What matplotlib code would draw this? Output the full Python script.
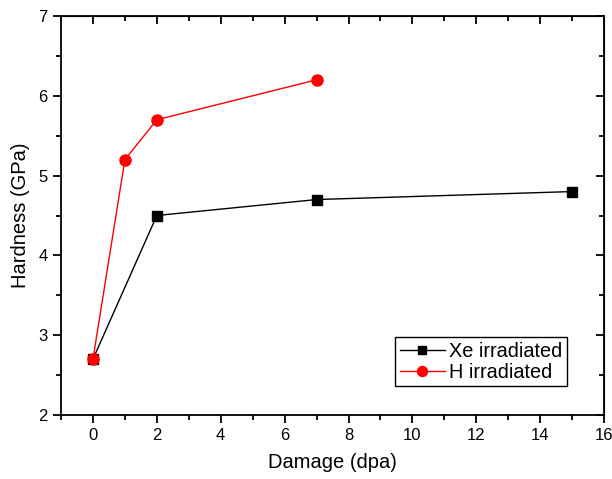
import matplotlib
matplotlib.use('Agg')
import matplotlib.pyplot as plt
from matplotlib.ticker import MultipleLocator

plt.rcParams['font.family'] = ['Liberation Sans', 'DejaVu Sans']

# Data
xe_dpa = [0, 2, 7, 15]
xe_hardness = [2.7, 4.5, 4.7, 4.8]
h_dpa = [0, 1, 2, 7]
h_hardness = [2.7, 5.2, 5.7, 6.2]

fig = plt.figure(figsize=(6.12, 4.79), dpi=100)
ax = fig.add_axes([0.0997, 0.1336, 0.8873, 0.833])

ax.plot(xe_dpa, xe_hardness, color='black', marker='s', markersize=7, linewidth=1, label='Xe irradiated')
ax.plot(h_dpa, h_hardness, color='red', marker='o', markersize=8, linewidth=1, label='H irradiated')

ax.set_xlim(-1, 16)
ax.set_ylim(2, 7)
ax.xaxis.set_major_locator(MultipleLocator(2))
ax.xaxis.set_minor_locator(MultipleLocator(1))
ax.yaxis.set_major_locator(MultipleLocator(1))
ax.yaxis.set_minor_locator(MultipleLocator(0.5))

for s in ax.spines.values():
    s.set_linewidth(1.3)

ax.tick_params(which='both', direction='out', top=False, right=False, labelsize=12, width=1.3)
ax.tick_params(which='major', length=6)
ax.tick_params(which='minor', length=3.5)

# inward ticks on top and right, like Origin
ax_top = ax.secondary_xaxis('top')
ax_top.xaxis.set_major_locator(MultipleLocator(2))
ax_top.xaxis.set_minor_locator(MultipleLocator(1))
ax_top.tick_params(which='both', direction='in', labeltop=False, width=1.3)
ax_top.tick_params(which='major', length=6)
ax_top.tick_params(which='minor', length=3.5)
ax_right = ax.secondary_yaxis('right')
ax_right.yaxis.set_major_locator(MultipleLocator(1))
ax_right.yaxis.set_minor_locator(MultipleLocator(0.5))
ax_right.tick_params(which='both', direction='in', labelright=False, width=1.3)
ax_right.tick_params(which='major', length=6)
ax_right.tick_params(which='minor', length=3.5)

ax.set_xlabel('Damage (dpa)', fontsize=14.5, labelpad=7)
ax.set_ylabel('Hardness (GPa)', fontsize=14.5, labelpad=6)

leg = ax.legend(loc='lower right', bbox_to_anchor=(0.932, 0.073), borderaxespad=0, fontsize=14.3,
                fancybox=False, edgecolor='black', framealpha=1, handlelength=2.26, borderpad=0.22,
                labelspacing=0.1, handletextpad=0.25, markerscale=0.9)
leg.get_frame().set_linewidth(1)

fig.savefig('out.png', dpi=100)
